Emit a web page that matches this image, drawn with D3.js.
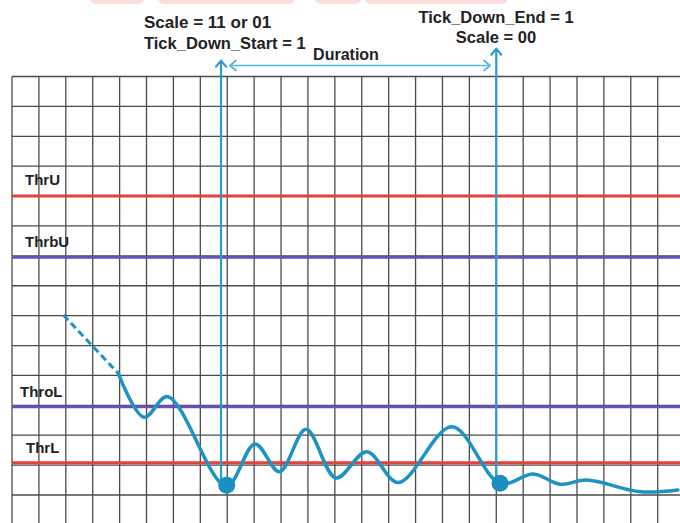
<!DOCTYPE html>
<html>
<head>
<meta charset="utf-8">
<script src="https://cdn.jsdelivr.net/npm/d3@7"></script>
<style>
  html, body { margin: 0; padding: 0; background: #fff; }
  svg { display: block; }
  text { font-family: "Liberation Sans", Arial, sans-serif; font-weight: bold; fill: #222; }
</style>
</head>
<body>
<svg id="chart" width="680" height="523"></svg>
<script>
// ---- data (grid units) ----
const thresholdNames  = ["ThrU", "ThrbU", "ThroL", "ThrL"];
const thresholdValues = [10.0, 7.95, 2.95, 1.08];
const thresholdColors = ["#e5403a", "#6a4fb8", "#6a4fb8", "#e5403a"];

const dashedX = [1.91, 3.95];
const dashedY = [6.02, 4.07];

const curveX = [3.95, 4.91, 5.79, 7.96, 9.03, 9.94, 10.93, 12.04, 13.19, 14.36, 16.35, 18.14, 19.38, 20.37, 21.36, 23.35, 24.75];
const curveY = [4.07, 2.60, 3.29, 0.30, 1.71, 0.78, 2.20, 0.57, 1.45, 0.42, 2.28, 0.39, 0.70, 0.36, 0.50, 0.11, 0.17];

const eventLineX = [7.77, 18.0];
const eventDotX  = [7.98, 18.14];
const eventDotY  = [0.33, 0.39];
const eventTopY  = [14.53, 14.93];

const durationFrom = 8.1;
const durationTo   = 17.77;
const durationY    = 14.37;

const gridXTicks = d3.range(0, 25);
const gridYTicks = d3.range(-1, 15);

// ---- scales ----
const x = d3.scaleLinear().domain([0, 24]).range([12, 657.7]);
const y = d3.scaleLinear().domain([0, 14]).range([495, 76.5]);

const svg = d3.select("#chart");

// faint watermark at top
const wm = svg.append("g").attr("opacity", 0.45);
[[90,144],[158,295],[315,361],[365,508]].forEach(([a,b]) => {
  wm.append("rect").attr("x", a).attr("y", -10).attr("width", b - a).attr("height", 14)
    .attr("rx", 6).attr("fill", "#f7b4b4");
});

// ---- grid ----
const grid = svg.append("g").attr("stroke", "#333").attr("stroke-width", 1.3).attr("opacity", 0.88);
grid.selectAll("line.h").data(gridYTicks).join("line")
  .attr("x1", x(0)).attr("x2", 680)
  .attr("y1", d => y(d)).attr("y2", d => y(d));
grid.selectAll("line.v").data(gridXTicks).join("line")
  .attr("x1", d => x(d)).attr("x2", d => x(d))
  .attr("y1", y(14)).attr("y2", y(-1));

// ---- thresholds ----
thresholdValues.forEach((v, i) => {
  svg.append("line")
    .attr("x1", x(0)).attr("x2", 680)
    .attr("y1", y(v)).attr("y2", y(v))
    .attr("stroke", thresholdColors[i]).attr("stroke-width", 3);
});
const labelPos = [[25, 184.5], [25, 247], [20, 396.5], [26, 452.5]];
thresholdNames.forEach((n, i) => {
  svg.append("text").attr("x", labelPos[i][0]).attr("y", labelPos[i][1])
    .attr("font-size", 15).text(n);
});

// ---- signal ----
const line = d3.line().x(d => x(d[0])).y(d => y(d[1])).curve(d3.curveCatmullRom.alpha(0.5));
svg.append("path")
  .attr("d", d3.line().x(d => x(d[0])).y(d => y(d[1]))(dashedX.map((d, i) => [d, dashedY[i]])))
  .attr("fill", "none").attr("stroke", "#1d93c3").attr("stroke-width", 3)
  .attr("stroke-dasharray", "7,4");
svg.append("path")
  .attr("d", line(curveX.map((d, i) => [d, curveY[i]])))
  .attr("fill", "none").attr("stroke", "#1d93c3").attr("stroke-width", 3.5)
  .attr("stroke-linejoin", "round").attr("stroke-linecap", "round");

// ---- event lines ----
function chevron(g, tx, ty, dir, color, w) {
  const s = 6;
  let p;
  if (dir === "up") p = [[tx - 5, ty + s], [tx, ty], [tx + 5, ty + s]];
  if (dir === "left") p = [[tx + s, ty - 5], [tx, ty], [tx + s, ty + 5]];
  if (dir === "right") p = [[tx - s, ty - 5], [tx, ty], [tx - s, ty + 5]];
  g.append("polyline").attr("points", p.map(q => q.join(",")).join(" "))
    .attr("fill", "none").attr("stroke", color).attr("stroke-width", w)
    .attr("stroke-linecap", "round").attr("stroke-linejoin", "round");
}
eventLineX.forEach((ex, i) => {
  svg.append("line")
    .attr("x1", x(ex)).attr("x2", x(ex))
    .attr("y1", y(eventDotY[i])).attr("y2", y(eventTopY[i]))
    .attr("stroke", "#2a9ccc").attr("stroke-width", 2.2);
  chevron(svg, x(ex), y(eventTopY[i]), "up", "#2a9ccc", 2.2);
  svg.append("circle")
    .attr("cx", x(eventDotX[i])).attr("cy", y(eventDotY[i])).attr("r", 8.5)
    .attr("fill", "#1b8fc0");
});

// duration arrow
svg.append("line")
  .attr("x1", x(durationFrom)).attr("x2", x(durationTo))
  .attr("y1", y(durationY)).attr("y2", y(durationY))
  .attr("stroke", "#5cb6df").attr("stroke-width", 1.6);
chevron(svg, x(durationFrom), y(durationY), "left", "#5cb6df", 1.8);
chevron(svg, x(durationTo), y(durationY), "right", "#5cb6df", 1.8);

// ---- annotations ----
svg.append("text").attr("x", 144).attr("y", 28).attr("font-size", 17).text("Scale = 11 or 01");
svg.append("text").attr("x", 144).attr("y", 48.5).attr("font-size", 16.5).text("Tick_Down_Start = 1");
svg.append("text").attr("x", 346).attr("y", 60).attr("font-size", 16).attr("text-anchor", "middle").text("Duration");
svg.append("text").attr("x", 496).attr("y", 23).attr("font-size", 16.5).attr("text-anchor", "middle").text("Tick_Down_End = 1");
svg.append("text").attr("x", 496).attr("y", 42.5).attr("font-size", 16.5).attr("text-anchor", "middle").text("Scale = 00");
</script>
</body>
</html>
